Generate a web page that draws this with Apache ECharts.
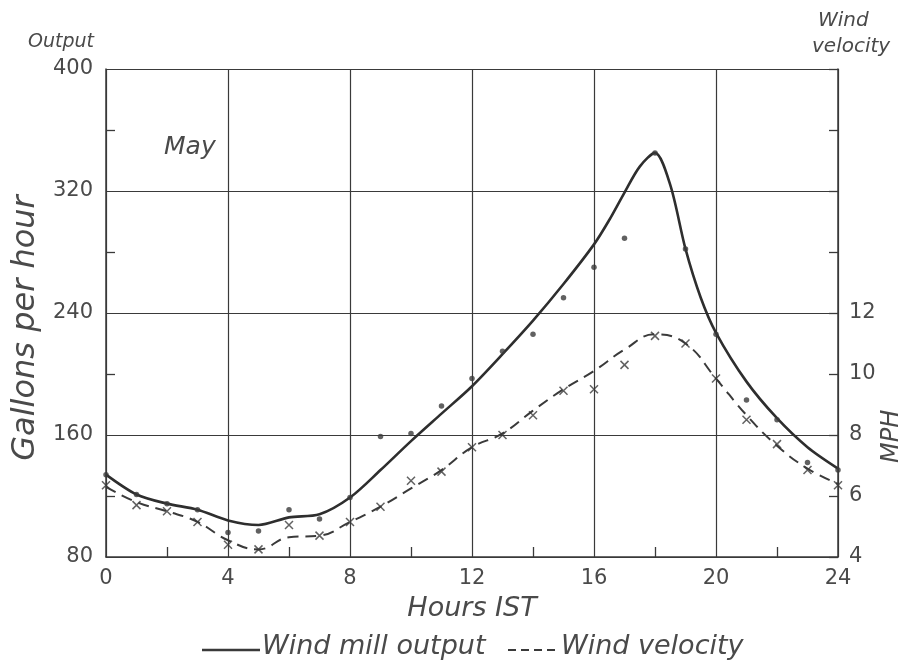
<!DOCTYPE html>
<html>
<head>
<meta charset="utf-8">
<script src="https://cdn.jsdelivr.net/npm/echarts@6/dist/echarts.min.js"></script>
<style>html,body{margin:0;padding:0;background:#fff}#c{width:904px;height:668px}</style>
</head>
<body>
<div id="c"></div>
<script>
// Hours of the day (IST) for observations
var hours = [0,1,2,3,4,5,6,7,8,9,10,11,12,13,14,15,16,17,18,19,20,21,22,23,24];
// Hours at which the drawn output curve was read (extra readings near the peak)
var curveHours = [0,1,2,3,4,5,6,7,8,9,10,11,12,13,14,15,16,16.5,17,17.5,18,18.5,19,19.5,20,21,22,23,24];
// Wind mill output, gallons per hour: fitted curve and observed points
var outputCurve = [134,121,115,111,104,101,106,108,119,137,156,174,192,213,235,259,285,301,319,336,345,324,282,250,227,195,171,152,138];
var outputObs   = [134,121,115,111,96,97,111,105,119,159,161,179,197,215,226,250,270,289,345,282,226,183,170,142,137];
// Wind velocity, MPH: fitted curve and observed points
var windCurve = [6.3,5.8,5.5,5.15,4.55,4.25,4.65,4.7,5.15,5.65,6.25,6.85,7.6,8.05,8.8,9.5,10.1,10.8,11.3,11.0,9.85,8.65,7.65,6.9,6.4];
var windObs   = [6.35,5.7,5.5,5.15,4.4,4.25,5.05,4.7,5.15,5.65,6.5,6.8,7.6,8.0,8.65,9.45,9.5,10.3,11.25,11.0,9.85,8.5,7.7,6.85,6.35];
// Axis ticks
var xTicks = {min:0, max:24, interval:4};
var leftTicks = {min:80, max:400, interval:80};
var rightTicks = {min:4, max:20, interval:2, labelMax:12};
// Legend labels
var legendNames = ['Wind mill output', 'Wind velocity'];

function pairs(xs, ys){ return xs.map(function(x,i){return [x, ys[i]];}); }

var ink = '#3a3a3a';
var txt = '#4a4a4a';
var fam = '"DejaVu Sans", sans-serif';

var chart = echarts.init(document.getElementById('c'), null, {renderer:'canvas'});
chart.setOption({
  animation:false,
  backgroundColor:'#fff',
  grid:{left:106, right:66, top:69, bottom:111, show:false},
  xAxis:{
    type:'value', min:xTicks.min, max:xTicks.max, interval:xTicks.interval,
    axisLine:{show:true, onZero:false, lineStyle:{color:ink, width:1.5}},
    axisTick:{show:false},
    minorTick:{show:true, splitNumber:2, length:-10, lineStyle:{color:ink, width:1.3}},
    splitLine:{show:true, lineStyle:{color:ink, width:1.2}},
    axisLabel:{fontFamily:fam, fontSize:21, color:txt, margin:11},
    name:'Hours IST', nameLocation:'middle', nameGap:38,
    nameTextStyle:{fontFamily:fam, fontStyle:'italic', fontSize:27, color:txt}
  },
  yAxis:[{
    type:'value', min:leftTicks.min, max:leftTicks.max, interval:leftTicks.interval,
    axisLine:{show:true, lineStyle:{color:ink, width:1.5}},
    axisTick:{show:false},
    minorTick:{show:true, splitNumber:2, length:-9, lineStyle:{color:ink, width:1.3}},
    splitLine:{show:true, lineStyle:{color:ink, width:1.2}},
    axisLabel:{fontFamily:fam, fontSize:21, color:txt, margin:13},
    name:'', nameLocation:'middle'
  },{
    type:'value', position:'right', min:rightTicks.min, max:rightTicks.max, interval:rightTicks.interval,
    axisLine:{show:true, lineStyle:{color:ink, width:1.5}},
    axisTick:{show:true, inside:true, length:9, lineStyle:{color:ink, width:1.3}},
    splitLine:{show:false},
    axisLabel:{fontFamily:fam, fontSize:21, color:txt, margin:11,
      formatter:function(v){return v<=rightTicks.labelMax ? String(v) : '';}}
  }],
  graphic:[
    {type:'text', left:28, top:33, style:{text:'Output', fontFamily:fam, fontStyle:'italic', fontSize:19, fill:txt}},
    {type:'text', x:10, y:328, rotation:Math.PI/2, style:{text:'Gallons per hour', fontFamily:fam, fontStyle:'italic', fontSize:32, fill:txt, align:'center', verticalAlign:'top'}},
    {type:'text', left:164, top:135, style:{text:'May', fontFamily:fam, fontStyle:'italic', fontSize:25, fill:txt}},
    {type:'text', left:818, top:11, style:{text:'Wind', fontFamily:fam, fontStyle:'italic', fontSize:20, fill:txt}},
    {type:'text', left:812, top:37, style:{text:'velocity', fontFamily:fam, fontStyle:'italic', fontSize:20, fill:txt}},
    {type:'text', x:880, y:463, rotation:Math.PI/2, style:{text:'MPH', fontFamily:fam, fontStyle:'italic', fontSize:24, fill:txt, verticalAlign:'top'}},
    {type:'line', shape:{x1:202, y1:650, x2:260, y2:650}, style:{stroke:ink, lineWidth:2.4}},
    {type:'text', left:262, top:633, style:{text:legendNames[0], fontFamily:fam, fontStyle:'italic', fontSize:27, fill:txt}},
    {type:'line', shape:{x1:508, y1:650, x2:559, y2:650}, style:{stroke:ink, lineWidth:2.2, lineDash:[8,5]}},
    {type:'text', left:561, top:633, style:{text:legendNames[1], fontFamily:fam, fontStyle:'italic', fontSize:27, fill:txt}}
  ],
  series:[{
    name:legendNames[0], type:'line', yAxisIndex:0, smooth:0.3, symbol:'none',
    data:pairs(curveHours, outputCurve), lineStyle:{color:'#2e2e2e', width:2.6}, itemStyle:{color:'#2e2e2e'}, z:3
  },{
    name:'Output obs', type:'scatter', yAxisIndex:0, symbol:'circle', symbolSize:5.5,
    data:pairs(hours, outputObs), itemStyle:{color:'#3a3a3a'}, z:4
  },{
    name:legendNames[1], type:'line', yAxisIndex:1, smooth:0.45, symbol:'none',
    data:pairs(hours, windCurve), lineStyle:{color:'#3a3a3a', width:2, type:[11,7]}, itemStyle:{color:'#3a3a3a'}, z:3
  },{
    name:'Wind obs', type:'scatter', yAxisIndex:1, symbol:'path://M0,0L10,10M10,0L0,10', symbolSize:8,
    data:pairs(hours, windObs), itemStyle:{color:'none', borderColor:'#3a3a3a', borderWidth:1.5}, z:4
  }]
});
</script>
</body>
</html>
